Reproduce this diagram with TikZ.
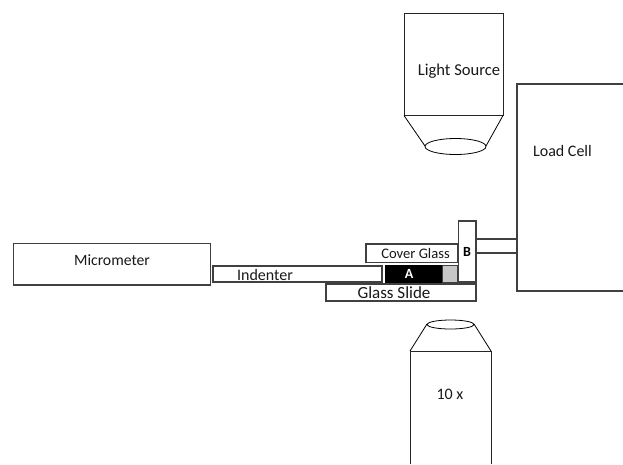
\documentclass[tikz,border=0pt]{standalone}
\usepackage{fontspec}
\setmainfont{Carlito}
\definecolor{ln}{gray}{0.25}
\begin{document}
\begin{tikzpicture}[x=1pt,y=-1pt,
  box/.style={draw=ln,line width=1.05pt,fill=white},
  thin box/.style={draw=black!85,line width=0.9pt,fill=white},
  lbl/.style={font=\fontsize{16}{16}\selectfont,text=black!90,inner sep=0pt,anchor=center},
  bold lbl/.style={font=\fontsize{14}{14}\selectfont\bfseries,inner sep=0pt,anchor=center}]
\useasboundingbox[fill=white] (0,0) rectangle (623,464);
% Load cell (open on the right)
\draw[draw=ln,line width=1.05pt] (623,84) -- (517,84) -- (517,291) -- (623,291);
\node[lbl] (loadcell) at (562.5,150.5) {Load Cell};
% Light source
\draw[thin box] (404,13) rectangle (503,115.5);
\node[lbl,font=\fontsize{16.6}{16}\selectfont] (light) at (459,71) {Light Source};
\draw[draw=black,line width=0.8pt] (404,115.5) -- (425,146) (503,115.5) -- (486,146);
\draw[draw=black,line width=0.8pt] (455.5,146.5) ellipse [x radius=30.5,y radius=8];
% Objective
\draw[draw=black!85,line width=0.9pt] (410,464) -- (410,351) -- (491,351) -- (491,464);
\draw[draw=black,line width=0.8pt] (410,351) -- (427,324) (491,351) -- (474,324);
\draw[draw=black,line width=0.8pt] (450.5,324.5) ellipse [x radius=23.5,y radius=4.5];
\node[lbl] (tenx) at (450,394) {10 x};
% Micrometer and indenter
\draw[box] (13.5,243.5) rectangle (210.5,285);
\node[lbl,font=\fontsize{15.7}{16}\selectfont] (micro) at (112,260.5) {Micrometer};
\draw[box] (213,266) rectangle (382,282);
\node[lbl] (indenter) at (265,275) {Indenter};
% Sample stack
\draw[box] (366,244) rectangle (457.5,262.5);
\node[lbl,font=\fontsize{14.6}{14}\selectfont] (cover) at (415.5,253) {Cover Glass};
\draw[draw=black,line width=0.8pt,fill=black] (385.5,265.5) rectangle (442,282);
\draw[draw=ln,line width=0.9pt,fill=black!22] (442,265) rectangle (457.5,282);
\node[bold lbl,text=white] (a) at (409,274) {A};
\draw[box] (458.5,221) rectangle (476,282);
\node[bold lbl] (b) at (467,252) {B};
\draw[box] (476.5,239) rectangle (517,253);
\draw[box] (326,284) rectangle (476,301);
\node[lbl,font=\fontsize{17}{16}\selectfont] (slide) at (394,292.5) {Glass Slide};
\end{tikzpicture}
\end{document}
